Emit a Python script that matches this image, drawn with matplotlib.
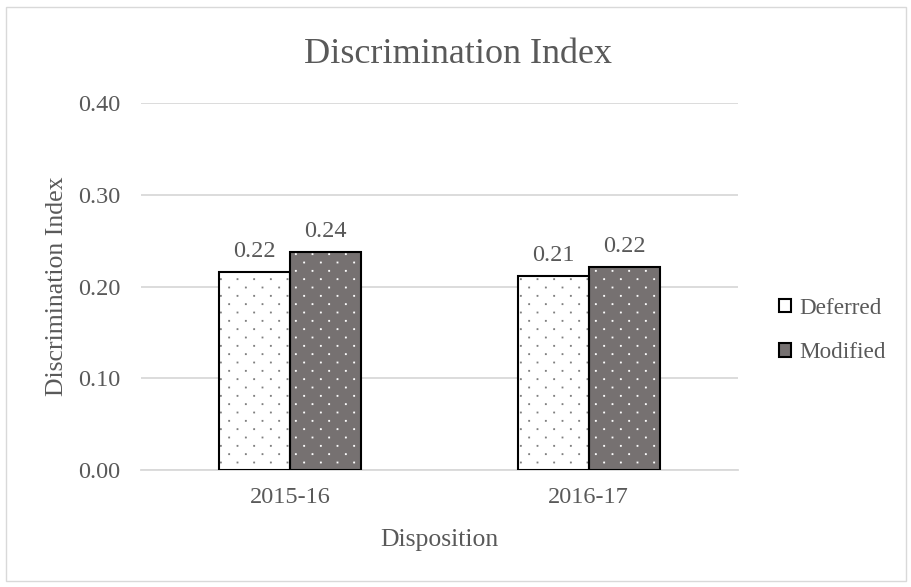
import numpy as np
import matplotlib.pyplot as plt
import matplotlib.hatch as mhatch
from matplotlib.path import Path
from matplotlib.patches import Rectangle, Patch

categories = ["2015-16", "2016-17"]
deferred = [0.216, 0.211]
modified = [0.238, 0.221]
labels_def = ["0.22", "0.21"]
labels_mod = ["0.24", "0.22"]


# Excel-like dotted fill: tiny squares, 16px apart across, 8px apart down, staggered
class DotLattice(mhatch.HatchPatternBase):
    def __init__(self, hatch, density):
        n = hatch.count('.')
        self.cols = 6 * n
        self.rows = 2 * self.cols
        self.num_vertices = self.cols * self.rows * 5

    def set_vertices_and_codes(self, vertices, codes):
        s = 0.005
        sq = np.array([[-s, -s], [s, -s], [s, s], [-s, s], [-s, -s]])
        sq_codes = [Path.MOVETO, Path.LINETO, Path.LINETO, Path.LINETO, Path.CLOSEPOLY]
        k = 0
        for r in range(self.rows):
            for c in range(self.cols):
                cx = (c + 0.25 + 0.5 * (r % 2)) / self.cols
                cy = (r + 0.5) / self.rows
                vertices[k:k + 5] = sq + [cx, cy]
                codes[k:k + 5] = sq_codes
                k += 5


mhatch._hatch_types = [DotLattice if t is mhatch.SmallFilledCircles else t
                       for t in mhatch._hatch_types]

plt.rcParams['font.family'] = ['Liberation Serif', 'DejaVu Serif']
plt.rcParams['hatch.linewidth'] = 0.6
text_col = '#595959'
grid_col = '#d9d9d9'
dark = '#767171'

fig = plt.figure(figsize=(9.11, 5.87), dpi=100)
ax = fig.add_axes([0.1548, 0.1993, 0.6553, 0.6252])

x = np.arange(len(categories))
w = 0.238

# fill + dotted pattern, then black outline on top
ax.bar(x - w / 2, deferred, w, color='white', hatch='.', edgecolor='#7f7f7f', linewidth=0, zorder=2)
ax.bar(x + w / 2, modified, w, color=dark, hatch='.', edgecolor='white', linewidth=0, zorder=2)
ax.bar(x - w / 2, deferred, w, fill=False, edgecolor='black', linewidth=1.5, zorder=3)
ax.bar(x + w / 2, modified, w, fill=False, edgecolor='black', linewidth=1.5, zorder=3)

for i in range(len(categories)):
    ax.text(x[i] - w / 2, deferred[i] + 0.011, labels_def[i], ha='center', va='bottom',
            fontsize=17.5, color=text_col)
    ax.text(x[i] + w / 2, modified[i] + 0.011, labels_mod[i], ha='center', va='bottom',
            fontsize=17.5, color=text_col)

ax.set_xlim(-0.5, 1.5)
ax.set_ylim(0, 0.4)
ax.set_yticks([0, 0.1, 0.2, 0.3, 0.4])
ax.set_yticklabels(["0.00", "0.10", "0.20", "0.30", "0.40"])
ax.set_xticks(x)
ax.set_xticklabels(categories)
ax.tick_params(length=0, labelsize=17.5, colors=text_col)
ax.tick_params(axis='x', pad=12)
ax.tick_params(axis='y', pad=15)
ax.grid(axis='y', color=grid_col, linewidth=1.3)
ax.set_axisbelow(True)
for s in ['top', 'right', 'left']:
    ax.spines[s].set_visible(False)
ax.spines['bottom'].set_color(grid_col)
ax.spines['bottom'].set_linewidth(1.3)

ax.set_xlabel("Disposition", fontsize=18.5, color=text_col, labelpad=15)
ax.set_ylabel("Discrimination Index", fontsize=18.5, color=text_col)
ax.yaxis.set_label_coords(-0.122, 0.5)
fig.text(0.503, 0.908, "Discrimination Index", ha='center', va='center', fontsize=26, color=text_col)

handles = [Patch(facecolor='white', edgecolor='black', linewidth=1.5, label='Deferred'),
           Patch(facecolor=dark, edgecolor='black', linewidth=1.5, label='Modified')]
fig.legend(handles=handles, loc='center left', bbox_to_anchor=(0.855, 0.437), frameon=False,
           fontsize=16.7, labelcolor=text_col, handlelength=0.52, handleheight=0.52,
           handletextpad=0.35, labelspacing=1.0, borderpad=0, borderaxespad=0)

fig.patches.append(Rectangle((0.007, 0.01), 0.987, 0.978, transform=fig.transFigure,
                             fill=False, edgecolor=grid_col, linewidth=1))

fig.savefig("out.png", dpi=100)
